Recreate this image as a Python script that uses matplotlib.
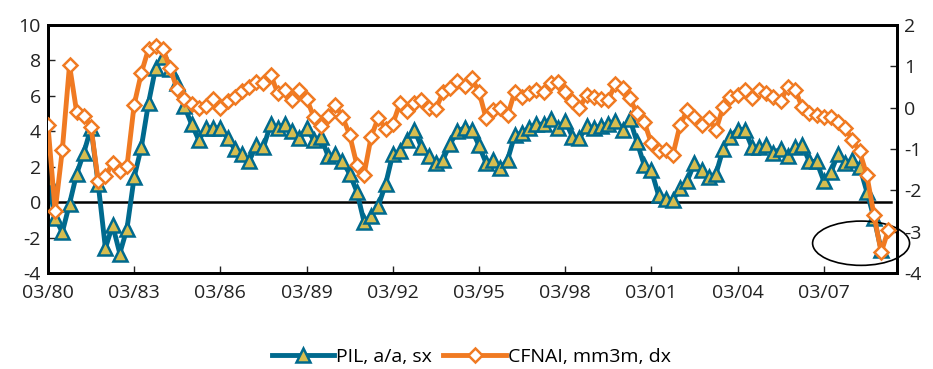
import numpy as np
import matplotlib
matplotlib.use('Agg')
import matplotlib.pyplot as plt
from matplotlib.patches import Ellipse

plt.rcParams['font.family'] = ['Open Sans', 'DejaVu Sans']
plt.rcParams['axes.unicode_minus'] = False

# quarterly data, index 0 = 03/80
pil = [1.3, -0.9, -1.7, -0.1, 1.6, 2.8, 4.2, 1.0, -2.6, -1.3,
       -2.9, -1.5, 1.4, 3.1, 5.6, 7.6, 8.2, 7.5, 6.7, 5.4,
       4.4, 3.5, 4.2, 4.2, 4.2, 3.6, 3.0, 2.7, 2.3, 3.2,
       3.1, 4.4, 4.2, 4.4, 4.0, 3.6, 4.2, 3.5, 3.7, 2.6,
       2.7, 2.3, 1.6, 0.6, -1.1, -0.8, -0.2, 1.0, 2.7, 2.9,
       3.5, 4.1, 3.1, 2.6, 2.2, 2.4, 3.3, 4.0, 4.2, 4.1,
       3.2, 2.2, 2.4, 1.9, 2.4, 3.8, 3.9, 4.2, 4.4, 4.4,
       4.7, 4.2, 4.6, 3.7, 3.6, 4.3, 4.2, 4.3, 4.4, 4.6,
       4.1, 4.7, 3.4, 2.1, 1.8, 0.4, 0.2, 0.1, 0.8, 1.2,
       2.2, 1.8, 1.4, 1.6, 3.0, 3.7, 4.1, 4.1, 3.1, 3.1,
       3.2, 2.8, 3.0, 2.6, 3.1, 3.2, 2.3, 2.3, 1.2, 1.7,
       2.7, 2.2, 2.4, 2.0, 0.6, -0.9, -2.7]

cfnai = [-0.42, -2.51, -1.02, 1.03, -0.11, -0.19, -0.47, -1.78, -1.66, -1.34,
         -1.54, -1.42, 0.07, 0.84, 1.42, 1.50, 1.42, 0.95, 0.45, 0.20,
         0.08, 0.00, 0.05, 0.20, 0.00, 0.15, 0.25, 0.40, 0.50, 0.63,
         0.60, 0.80, 0.35, 0.42, 0.19, 0.42, 0.22, -0.22, -0.44, -0.20,
         0.07, -0.22, -0.66, -1.38, -1.62, -0.70, -0.24, -0.52, -0.40, 0.11,
         -0.08, 0.12, 0.19, 0.00, -0.03, 0.37, 0.47, 0.65, 0.53, 0.71,
         0.39, -0.26, -0.06, -0.01, -0.18, 0.39, 0.27, 0.35, 0.43, 0.39,
         0.59, 0.63, 0.39, 0.15, -0.01, 0.31, 0.27, 0.20, 0.19, 0.57,
         0.47, 0.23, -0.14, -0.34, -0.86, -1.06, -1.02, -1.14, -0.42, -0.06,
         -0.22, -0.42, -0.26, -0.54, 0.02, 0.27, 0.31, 0.43, 0.23, 0.43,
         0.35, 0.27, 0.15, 0.51, 0.43, 0.02, -0.14, -0.18, -0.22, -0.22,
         -0.34, -0.50, -0.78, -1.06, -1.63, -2.60, -3.50, -2.96]

tick_pos = [0, 12, 24, 36, 48, 60, 72, 84, 96, 108]
tick_labels = ['03/80', '03/83', '03/86', '03/89', '03/92', '03/95',
               '03/98', '03/01', '03/04', '03/07']

blue = '#006A8E'
gold = '#D6BD4F'
orange = '#F07A22'

fig = plt.figure(figsize=(9.33, 3.69), dpi=100)
ax = fig.add_axes([0.0514, 0.2602, 0.9100, 0.6720])
ax2 = ax.twinx()

x_pil = np.arange(len(pil))
x_cf = np.arange(len(cfnai))

ax.axhline(0, xmin=0, xmax=117.4 / 118.2, color='black', lw=1.8, zorder=1)
l1, = ax.plot(x_pil, pil, color=blue, lw=3.5, marker='^', ms=9.5,
              mfc=gold, mec=blue, mew=1.8, zorder=3, label='PIL, a/a, sx')
l2, = ax2.plot(x_cf, cfnai, color=orange, lw=3.5, marker='D', ms=7.5,
               mfc='white', mec=orange, mew=1.8, zorder=3, label='CFNAI, mm3m, dx')

ax.set_xlim(0, 118.2)
ax.set_ylim(-4, 10)
ax.set_yticks(range(-4, 11, 2))
ax2.set_ylim(-4, 2)
ax2.set_yticks(range(-4, 3, 1))
ax.set_xticks(tick_pos)
ax.set_xticklabels(tick_labels)

for a in (ax, ax2):
    a.tick_params(direction='in', length=5, width=1, labelsize=14, colors='#222222')
    for s in a.spines.values():
        s.set_linewidth(2)
        s.set_color('black')
ax.tick_params(axis='x', pad=8)
ax.tick_params(axis='y', pad=5)
ax2.tick_params(axis='y', pad=5)

ell = Ellipse((113.2, -2.32), width=13.5, height=2.5, fill=False,
              edgecolor='black', lw=1.2, clip_on=False, zorder=5)
ax.add_patch(ell)

fig.legend(handles=[l1, l2], loc='center', bbox_to_anchor=(0.505, 0.033),
           ncol=2, frameon=False, fontsize=14, handlelength=3.2,
           handletextpad=0.1, columnspacing=0.6)

plt.savefig('out.png', dpi=100)
